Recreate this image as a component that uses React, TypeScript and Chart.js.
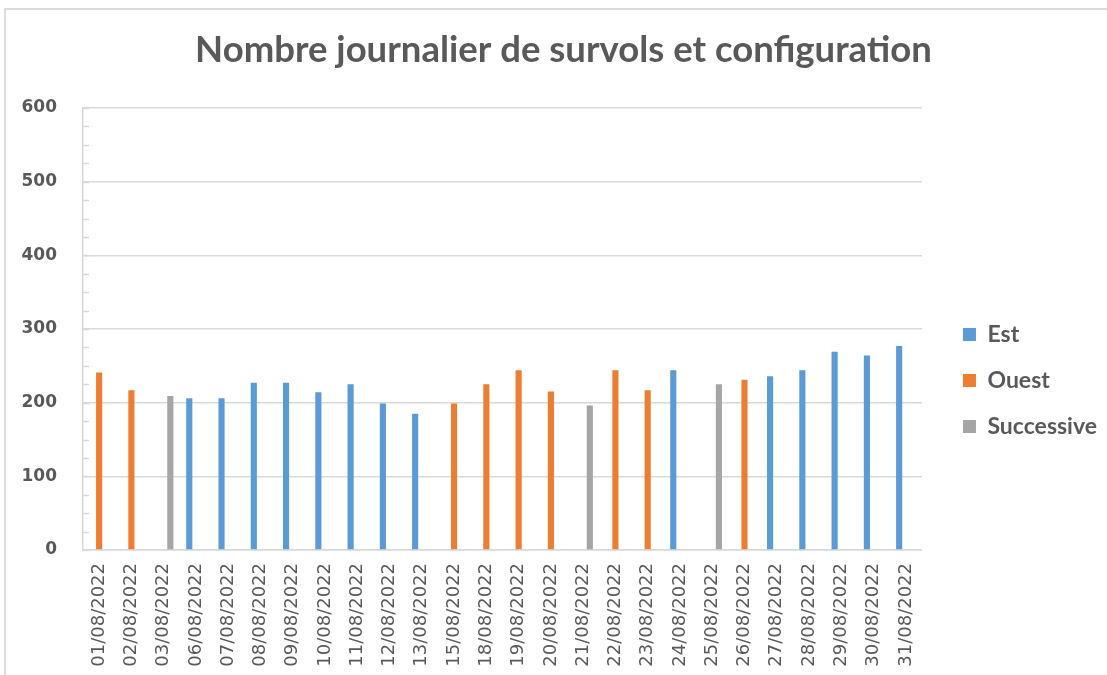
import React, { useEffect, useRef } from 'react';
import { Chart, registerables } from 'chart.js';

Chart.register(...registerables);

const categories = [
  '01/08/2022', '02/08/2022', '03/08/2022', '06/08/2022', '07/08/2022', '08/08/2022',
  '09/08/2022', '10/08/2022', '11/08/2022', '12/08/2022', '13/08/2022', '15/08/2022',
  '18/08/2022', '19/08/2022', '20/08/2022', '21/08/2022', '22/08/2022', '23/08/2022',
  '24/08/2022', '25/08/2022', '26/08/2022', '27/08/2022', '28/08/2022', '29/08/2022',
  '30/08/2022', '31/08/2022',
];

const estValues = [
  null, null, null, 206, 206, 227, 227, 214, 225, 199, 185, null,
  null, null, null, null, null, null, 244, null, null, 236, 244, 269, 264, 277,
];

const ouestValues = [
  241, 217, null, null, null, null, null, null, null, null, null, 199,
  225, 244, 215, null, 244, 217, null, null, 231, null, null, null, null, null,
];

const successiveValues = [
  null, null, 209, null, null, null, null, null, null, null, null, null,
  null, null, null, 196, null, null, null, 225, null, null, null, null, null, null,
];

const seriesNames = ['Est', 'Ouest', 'Successive'];
const seriesColors = ['#5B9BD5', '#ED7D31', '#A5A5A5'];
const titleText = 'Nombre journalier de survols et configuration';
const yMin = 0;
const yMax = 600;
const yStep = 100;
const yMinorStep = 25;

const minorTicksPlugin = {
  id: 'minorTicks',
  beforeDatasetsDraw(chart: any) {
    const y = chart.scales.y;
    const ctx = chart.ctx;
    const left = chart.chartArea.left;
    ctx.save();
    ctx.strokeStyle = '#D9D9D9';
    ctx.lineWidth = 1.5;
    for (let v = yMin; v <= yMax; v += yMinorStep) {
      const py = Math.round(y.getPixelForValue(v)) + 0.5;
      ctx.beginPath();
      ctx.moveTo(left, py);
      ctx.lineTo(left + 6, py);
      ctx.stroke();
    }
    ctx.restore();
  },
};

export default function App() {
  const canvasRef = useRef<HTMLCanvasElement | null>(null);

  useEffect(() => {
    if (!canvasRef.current) return;
    const values = [estValues, ouestValues, successiveValues];
    const chart = new Chart(canvasRef.current, {
      type: 'bar',
      data: {
        labels: categories,
        datasets: seriesNames.map((name, i) => ({
          label: name,
          data: values[i],
          backgroundColor: seriesColors[i],
          borderWidth: 0,
          categoryPercentage: 0.62,
          barPercentage: 0.92,
        })),
      },
      plugins: [minorTicksPlugin],
      options: {
        responsive: false,
        animation: false,
        layout: { padding: { left: 20, right: 0, top: 0, bottom: 0 } },
        plugins: {
          title: {
            display: true,
            text: titleText,
            color: '#595959',
            font: { family: 'Lato', size: 36.5, weight: 'bold', lineHeight: 1.2 },
            padding: { top: 28, bottom: 36.2 },
          },
          legend: {
            position: 'right',
            align: 'center',
            maxWidth: 168,
            title: {
              display: true,
              text: ' ',
              font: { size: 10, lineHeight: 1 },
              padding: 38,
            },
            labels: {
              boxWidth: 13,
              boxHeight: 13,
              padding: 23,
              color: '#595959',
              font: { family: 'Lato', size: 23, weight: 'bold' },
            },
          },
          tooltip: { enabled: false },
        },
        scales: {
          x: {
            grid: { display: false, drawTicks: false },
            border: { display: true, color: '#D9D9D9', width: 1.5 },
            ticks: {
              color: '#595959',
              font: { family: 'DejaVu Sans', size: 18 },
              minRotation: 90,
              maxRotation: 90,
              padding: 13,
              autoSkip: false,
            },
            afterFit: (scale: any) => { scale.height = 125; },
          },
          y: {
            min: yMin,
            max: yMax,
            grid: { color: '#D9D9D9', lineWidth: 1.5, drawTicks: false },
            border: { display: true, color: '#D9D9D9', width: 1.5 },
            ticks: {
              stepSize: yStep,
              color: '#595959',
              font: { family: 'DejaVu Sans', size: 17, weight: 'bold' },
              padding: 26,
            },
            afterFit: (scale: any) => { scale.width = 63; },
          },
          spacer: {
            type: 'linear',
            position: 'right',
            display: true,
            grid: { display: false, drawTicks: false },
            border: { display: false },
            ticks: { display: false },
            afterFit: (scale: any) => { scale.width = 18; },
          },
        },
      },
    } as any);
    return () => chart.destroy();
  }, []);

  return (
    <div style={{ position: 'absolute', left: 0, top: 0, width: 1107, height: 675, overflow: 'hidden', background: '#fff' }}>
      <div style={{ position: 'absolute', left: 4, top: 8, width: 1200, height: 800, borderTop: '2px solid #DCDCDC', borderLeft: '2px solid #DCDCDC' }} />
      <canvas ref={canvasRef} width={1107} height={675} style={{ position: 'absolute', left: 0, top: 0 }} />
    </div>
  );
}
